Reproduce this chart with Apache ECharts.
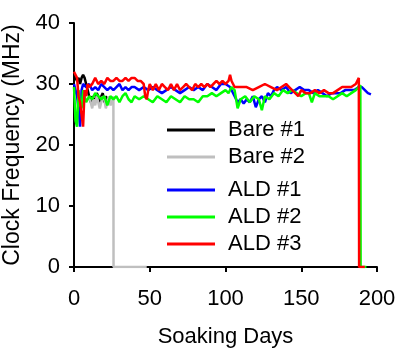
<!DOCTYPE html>
<html>
<head>
<meta charset="utf-8">
<script src="https://cdn.jsdelivr.net/npm/echarts@6/dist/echarts.min.js"></script>
<style>
  html, body { margin: 0; padding: 0; background: #fff; }
  #chart { width: 400px; height: 350px; }
</style>
</head>
<body>
<div id="chart"></div>
<script>
// Bare #1 (black)
var bare1Days = [0,1,2,3,4,5,6,7,8,9,10,11,12,13,14,15,16,17,18,19,20,21,22];
var bare1Vals = [31.5,31,30.5,31,30,31,31.5,31,30,29,28,27,28,27.5,27,28.5,28,27,28,28.5,27,28,27.5];

// Bare #2 (gray)
var bare2Days = [10,11,12,13,14,15,16,17,18,19,20,21,22,23,24,25,26,26.1,48];
var bare2Vals = [28,27,26,27.5,26.5,28,27,26,27,28,27.5,26,27,28,26.5,27,28,0,0];

// ALD #1 (blue)
var ald1Days = [0,1,2,3,4,5,6,8,10,12,14,16,18,20,22,24,26,28,30,32,34,36,38,40,43,46,49,52,55,58,61,64,67,70,73,76,79,82,85,88,91,94,97,100,103,106,108,110,112,114,116,118,120,122,124,126,128,130,132,134,137,140,143,146,149,152,155,158,161,164,167,170,173,176,179,182,185,188,190,192,194,196];
var ald1Vals = [30,29,28,26,23,29,30,29.5,30,29,29.5,29,30,29.5,29,29.5,29,29.5,30,29,29.5,29,29.5,29.5,29,29.5,29,29.5,29,28.5,29,29.5,29,28.5,29,29.5,29,29.5,29,30,29.5,29,30,30,29.5,28,27,27.5,26.8,27.5,27,28,26.2,27.5,28,27,28.5,28,29,29.5,29,29.5,28.5,29,29.5,29,29,28.5,29,28.5,28,28.5,28.5,28.5,29,29,29,29.5,29.5,29,28.5,28.3];

// ALD #2 (green)
var ald2Days = [0,1,2,3,4,5,6,7,8,10,12,14,16,18,20,22,24,26,28,30,32,34,36,38,40,43,46,49,52,55,58,61,64,67,70,73,76,79,82,85,88,91,94,97,100,102,104,106,108,110,113,116,119,122,124,126,129,132,135,138,141,144,147,150,153,155,157,159,162,165,168,171,174,177,180,183,186,189,189.2,193];
var ald2Vals = [29.5,24,23,29,27,26,29,28,27,28,27.5,28.5,28,27.5,28,26.5,28,27.5,28,27,28,28.5,27.5,27,28,27.5,28,27.5,27,28,27.5,27,28,27.5,27,28,27.5,27.5,27,28,28,28.5,28,28.5,29,28.5,29.5,29,26,27.5,28,27,28,27.5,25.7,28,27.5,28.5,28,29,28.5,29,28.5,28,28.5,28.5,27,28.5,28,28,28,27.5,28,28.5,28,28.5,29,29.8,0,0];

// ALD #3 (red)
var ald3Days = [0,1,2,3,4,5,6,7,8,9,10,12,14,16,18,20,22,24,26,28,30,32,34,36,38,40,42,44,46,47,48,49,50,52,54,56,58,60,62,64,66,68,70,72,74,76,78,80,82,84,86,88,90,92,94,96,98,100,102,103,104,106,110,114,118,122,126,130,134,137,140,142,144,146,148,150,153,156,159,162,165,168,171,174,177,180,183,186,188,188.2,192];
var ald3Vals = [32,31.5,31,28,27,25,23,29,28,30,29.5,30,31,30,30.5,30,31,30.5,30.5,31,30.5,30.5,31,30.5,31,31,30.5,30.5,30,28,27.5,29,30,29,30,29,30,29.5,29,30,29,30,29,29.5,30,29.5,29,30,29.5,30,29.5,30,29.5,30,30.5,30,30.5,30,30.5,31.5,30.5,29.5,29.5,29.5,29,29.5,30,29.5,29,29.5,30,29.5,29,28.5,28,29,28.5,28.5,29,28.5,29,28.5,28.5,29,29.5,29.5,29.5,30,31,0,0];

var xTicks = [0, 50, 100, 150, 200];
var yTicks = [0, 10, 20, 30, 40];

function pairs(days, vals) {
  return days.map(function (d, i) { return [d, vals[i]]; });
}

var font = 'Liberation Sans, Arial, sans-serif';
var chart = echarts.init(document.getElementById('chart'));

function mkSeries(name, days, vals, color) {
  return {
    name: name,
    type: 'line',
    data: pairs(days, vals),
    showSymbol: false,
    animation: false,
    lineStyle: { color: color, width: 2.5 },
    itemStyle: { color: color }
  };
}

var legendBase = {
  orient: 'vertical',
  left: 162,
  icon: 'rect',
  itemWidth: 48,
  itemHeight: 3,
  itemGap: 5,
  textStyle: { fontFamily: font, fontSize: 22, color: '#000', lineHeight: 22, padding: [0, 0, 0, 8] }
};

chart.setOption({
  backgroundColor: '#fff',
  animation: false,
  legend: [
    Object.assign({}, legendBase, { top: 114, data: ['Bare #1', 'Bare #2'] }),
    Object.assign({}, legendBase, { top: 174, data: ['ALD #1', 'ALD #2', 'ALD #3'] })
  ],
  grid: { left: 74, right: 23, top: 23, bottom: 83, containLabel: false, outerBoundsMode: 'none' },
  xAxis: {
    type: 'value',
    min: xTicks[0],
    max: xTicks[xTicks.length - 1],
    interval: 50,
    name: 'Soaking Days',
    nameLocation: 'middle',
    nameGap: 59,
    nameTextStyle: { fontFamily: font, fontSize: 22, color: '#000' },
    axisLine: { lineStyle: { color: '#000', width: 2 } },
    axisTick: { show: true, inside: false, length: 5, lineStyle: { color: '#000', width: 2 } },
    axisLabel: { fontFamily: font, fontSize: 22, color: '#000', margin: 21 },
    splitLine: { show: false }
  },
  yAxis: {
    type: 'value',
    min: yTicks[0],
    max: yTicks[yTicks.length - 1],
    interval: 10,
    name: 'Clock Frequency (MHz)',
    nameLocation: 'middle',
    nameGap: 47,
    nameTextStyle: { fontFamily: font, fontSize: 23, color: '#000' },
    axisLine: { show: true, lineStyle: { color: '#000', width: 2 } },
    axisTick: { show: true, inside: false, length: 5, lineStyle: { color: '#000', width: 2 } },
    axisLabel: { fontFamily: font, fontSize: 22, color: '#000', margin: 14 },
    splitLine: { show: false }
  },
  series: [
    mkSeries('Bare #1', bare1Days, bare1Vals, '#000000'),
    mkSeries('Bare #2', bare2Days, bare2Vals, '#bfbfbf'),
    mkSeries('ALD #1', ald1Days, ald1Vals, '#0000ff'),
    mkSeries('ALD #2', ald2Days, ald2Vals, '#00ff00'),
    mkSeries('ALD #3', ald3Days, ald3Vals, '#ff0000')
  ]
});
</script>
</body>
</html>
